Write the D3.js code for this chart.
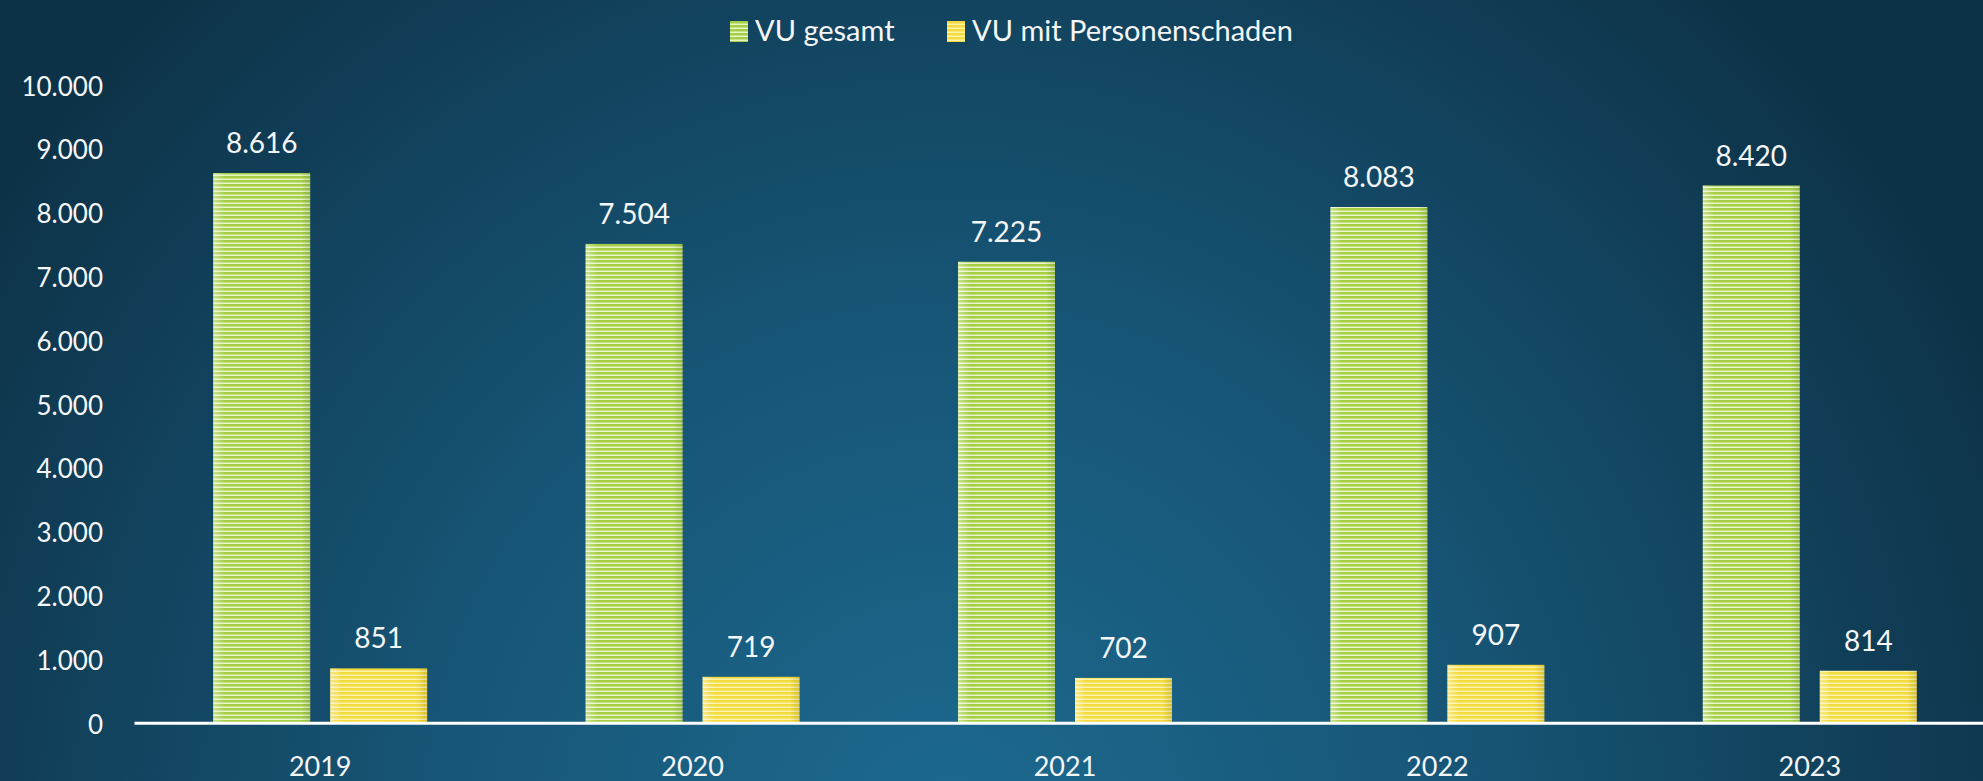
<!DOCTYPE html>
<html>
<head>
<meta charset="utf-8">
<script src="https://cdn.jsdelivr.net/npm/d3@7"></script>
<style>
  html, body { margin: 0; padding: 0; overflow: hidden; }
  body { width: 1983px; height: 781px; }
  text { font-family: Lato, "Open Sans", sans-serif; fill: #f4f6f8; }
</style>
</head>
<body>
<div id="chart"></div>
<script>
// chart data
var years = ["2019", "2020", "2021", "2022", "2023"];
var vuGesamt = [8616, 7504, 7225, 8083, 8420];
var vuPersonen = [851, 719, 702, 907, 814];
var seriesNames = ["VU gesamt", "VU mit Personenschaden"];
var yTicks = [0, 1000, 2000, 3000, 4000, 5000, 6000, 7000, 8000, 9000, 10000];

var W = 1983, H = 781;
var de = d3.formatLocale({decimal: ",", thousands: ".", grouping: [3], currency: ["", " €"]});
var fmt = de.format(",d");

var svg = d3.select("#chart").append("svg")
    .attr("width", W)
    .attr("height", H);

var defs = svg.append("defs");

// background
var bg = defs.append("radialGradient")
    .attr("id", "bg")
    .attr("gradientUnits", "userSpaceOnUse")
    .attr("cx", 950).attr("cy", 830)
    .attr("r", 1150);
bg.append("stop").attr("offset", "0").attr("stop-color", "#1c6a8f");
bg.append("stop").attr("offset", "0.45").attr("stop-color", "#175576");
bg.append("stop").attr("offset", "1").attr("stop-color", "#0d3247");

svg.append("rect")
    .attr("width", W).attr("height", H)
    .attr("fill", "url(#bg)");

// striped fills
var fills = [
  {id: "stripeGreen", base: "#a4cf45", light: "#e8f4c8"},
  {id: "stripeYellow", base: "#f4da3a", light: "#fbf2ac"}
];
fills.forEach(function(f) {
  var p = defs.append("pattern")
      .attr("id", f.id)
      .attr("patternUnits", "userSpaceOnUse")
      .attr("width", 8).attr("height", 4);
  p.append("rect").attr("width", 8).attr("height", 4).attr("fill", f.base);
  p.append("rect").attr("y", 2.5).attr("width", 8).attr("height", 1.5).attr("fill", f.light);
});

// soft shading across each bar
var shade = defs.append("linearGradient").attr("id", "shade").attr("x1", 0).attr("x2", 1);
shade.append("stop").attr("offset", "0").attr("stop-color", "#ffffff").attr("stop-opacity", 0.4);
shade.append("stop").attr("offset", "0.12").attr("stop-color", "#ffffff").attr("stop-opacity", 0);
shade.append("stop").attr("offset", "0.9").attr("stop-color", "#000000").attr("stop-opacity", 0);
shade.append("stop").attr("offset", "1").attr("stop-color", "#000000").attr("stop-opacity", 0.12);

// scales
var x0 = d3.scaleBand()
    .domain(years)
    .range([134, 1996]);

var x1 = d3.scaleBand()
    .domain([0, 1])
    .range([0, x0.bandwidth()])
    .paddingInner(0.171)
    .paddingOuter(0.677);

var y = d3.scaleLinear()
    .domain([0, 10000])
    .range([722.7, 84.7]);

// y axis labels
var yAxis = d3.axisLeft(y)
    .tickValues(yTicks)
    .tickFormat(fmt)
    .tickSize(0)
    .tickPadding(0);

var gy = svg.append("g")
    .attr("transform", "translate(103,2)")
    .call(yAxis);
gy.select(".domain").remove();
gy.selectAll("text")
    .attr("font-size", 26)
    .attr("fill", "#f4f6f8")
    .style("font-family", "Lato, 'Open Sans', sans-serif");

// bars
var rows = years.map(function(yr, i) {
  return {year: yr, values: [vuGesamt[i], vuPersonen[i]]};
});

var groups = svg.append("g").selectAll("g")
    .data(rows)
    .enter().append("g")
    .attr("transform", function(d) { return "translate(" + x0(d.year) + ",0)"; });

var bars = groups.selectAll("g.bar")
    .data(function(d) { return d.values.map(function(v, k) { return {k: k, v: v}; }); })
    .enter().append("g")
    .attr("class", "bar");

bars.append("rect")
    .attr("x", function(d) { return x1(d.k); })
    .attr("y", function(d) { return y(d.v); })
    .attr("width", x1.bandwidth())
    .attr("height", function(d) { return y(0) - y(d.v); })
    .attr("fill", function(d) { return "url(#" + fills[d.k].id + ")"; });

bars.append("rect")
    .attr("x", function(d) { return x1(d.k); })
    .attr("y", function(d) { return y(d.v); })
    .attr("width", x1.bandwidth())
    .attr("height", function(d) { return y(0) - y(d.v); })
    .attr("fill", "url(#shade)");

bars.append("text")
    .attr("x", function(d) { return x1(d.k) + x1.bandwidth() / 2; })
    .attr("y", function(d) { return y(d.v) - 20; })
    .attr("text-anchor", "middle")
    .attr("font-size", 28)
    .text(function(d) { return fmt(d.v); });

// x axis
var xAxis = d3.axisBottom(x0).tickSize(0).tickPadding(0);
var gx = svg.append("g")
    .attr("transform", "translate(0," + y(0) + ")")
    .call(xAxis);
gx.select(".domain")
    .attr("stroke", "#ffffff")
    .attr("stroke-width", 3);
gx.selectAll("text")
    .attr("y", 53)
    .attr("dy", 0)
    .attr("font-size", 27)
    .attr("fill", "#f4f6f8")
    .style("font-family", "Lato, 'Open Sans', sans-serif");

// legend
var legendX = [730, 947];
var legend = svg.append("g").selectAll("g")
    .data(seriesNames)
    .enter().append("g")
    .attr("transform", function(d, i) { return "translate(" + legendX[i] + ",21)"; });

legend.append("rect")
    .attr("width", 18).attr("height", 21)
    .attr("fill", function(d, i) { return "url(#" + fills[i].id + ")"; });

legend.append("text")
    .attr("x", 25)
    .attr("y", 20)
    .attr("font-size", 29)
    .text(function(d) { return d; });
</script>
</body>
</html>
